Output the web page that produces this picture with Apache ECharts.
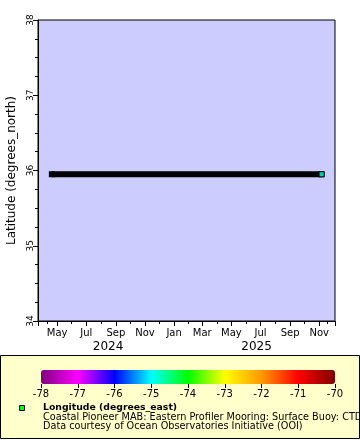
<!DOCTYPE html>
<html>
<head>
<meta charset="utf-8">
<script src="https://cdn.jsdelivr.net/npm/echarts@6/dist/echarts.min.js"></script>
<style>
html,body{margin:0;padding:0;background:#fff;}
#chart{width:360px;height:440px;}
</style>
</head>
<body>
<div id="chart"></div>
<script>
// ---- data ----
const trackDates = ['2024-04-20', '2025-11-06'];      // first and last observation
const trackLatitudes = [35.95, 35.95];                 // degrees_north
const lastDate = '2025-11-06';
const lastLatitude = 35.95;
const lastLongitude = -74.84;                          // degrees_east
const axisStart = '2024-03-22';
const axisEnd = '2025-12-04';
const yearBoundary = '2025-01-01';
const latMin = 34, latMax = 38, latStep = 1;
const lonMin = -78, lonMax = -70, lonStep = 1;
const colorStops = ['#800080', '#ff00ff', '#0000ff', '#00ffff', '#00ff00', '#ffff00', '#ff9900', '#ff0000', '#800000'];
const monthNames = ['Jan','Feb','Mar','Apr','May','Jun','Jul','Aug','Sep','Oct','Nov','Dec'];
const years = [2024, 2025];
const legendTitle = 'Longitude (degrees_east)';
const legendLines = ['Coastal Pioneer MAB: Eastern Profiler Mooring: Surface Buoy: CTD',
                     'Data courtesy of Ocean Observatories Initiative (OOI)'];
const yName = 'Latitude (degrees_north)';

const FONT = 'DejaVu Sans';
const toTs = s => new Date(s + 'T00:00:00').getTime();

const chart = echarts.init(document.getElementById('chart'), null, {renderer: 'canvas'});

const option = {
  animation: false,
  backgroundColor: '#ffffff',
  textStyle: {fontFamily: FONT},
  grid: [
    {left: 38, right: 25, top: 20, bottom: 119, show: true, backgroundColor: '#ccccff', borderColor: '#000', borderWidth: 1, outerBoundsMode: 'none', containLabel: false},
    {left: 41, right: 25, top: 370, height: 14, show: false, outerBoundsMode: 'none', containLabel: false}
  ],
  xAxis: [
    {
      type: 'time', gridIndex: 0,
      min: toTs(axisStart), max: toTs(axisEnd),
      minInterval: 61 * 86400000, maxInterval: 61 * 86400000,
      axisLine: {show: true, lineStyle: {color: '#000', width: 1}},
      axisTick: {show: true, length: 5, lineStyle: {color: '#000'}},
      minorTick: {show: true, splitNumber: 2, length: 3, lineStyle: {color: '#000'}},
      splitLine: {show: false},
      axisLabel: {
        fontFamily: FONT, fontSize: 10, color: '#000', margin: 7, hideOverlap: false,
        showMinLabel: false, showMaxLabel: false,
        formatter: v => monthNames[new Date(v).getMonth()],
        rich: {}
      }
    },
    {
      type: 'value', gridIndex: 1, min: lonMin, max: lonMax, interval: lonStep,
      position: 'bottom',
      axisLine: {show: false},
      axisTick: {show: true, length: 4, inside: false, lineStyle: {color: '#000'}},
      splitLine: {show: false},
      axisLabel: {fontFamily: FONT, fontSize: 10, color: '#000', margin: 5}
    }
  ],
  yAxis: [
    {
      type: 'value', gridIndex: 0, min: latMin, max: latMax, interval: latStep,
      name: yName, nameLocation: 'middle', nameGap: 16,
      nameTextStyle: {fontFamily: FONT, fontSize: 12, color: '#000'},
      axisLine: {show: true, lineStyle: {color: '#000'}},
      axisTick: {show: true, length: 5, lineStyle: {color: '#000'}},
      minorTick: {show: true, splitNumber: 4, length: 3, lineStyle: {color: '#000'}},
      splitLine: {show: false},
      axisLabel: {fontFamily: FONT, fontSize: 9, color: '#000', rotate: 90, margin: 3}
    },
    {type: 'value', gridIndex: 1, min: 0, max: 1, show: false}
  ],
  visualMap: {
    type: 'continuous', seriesIndex: 1, dimension: 2,
    min: lonMin, max: lonMax, orient: 'horizontal',
    left: 41, top: 370, itemWidth: 14, itemHeight: 294, padding: 0,
    calculable: false, text: null, showLabel: false, hoverLink: false,
    inRange: {color: colorStops},
    borderWidth: 0
  },
  series: [
    {
      type: 'line', xAxisIndex: 0, yAxisIndex: 0,
      data: trackDates.map((d, i) => [toTs(d), trackLatitudes[i]]),
      symbol: 'rect', symbolSize: 6, showSymbol: true,
      itemStyle: {color: '#000'},
      lineStyle: {color: '#000', width: 6, cap: 'butt'},
      silent: true, z: 2
    },
    {
      type: 'scatter', xAxisIndex: 0, yAxisIndex: 0,
      data: [[toTs(lastDate), lastLatitude, lastLongitude]],
      symbol: 'rect', symbolSize: 5,
      itemStyle: {borderColor: '#000', borderWidth: 1},
      silent: true, z: 3
    },
    {
      // heavier tick marking the year boundary
      type: 'line', xAxisIndex: 0, yAxisIndex: 0, data: [], clip: false, silent: true,
      markLine: {
        silent: true, symbol: 'none', animation: false, label: {show: false},
        lineStyle: {color: '#000', width: 2.5, type: 'solid'},
        data: [[{coord: [toTs(yearBoundary), latMin]}, {coord: [toTs(yearBoundary), latMin - 0.07]}]]
      }
    }
  ]
};
chart.setOption(option);

// Year labels centred on each year's visible span, positioned through the axis scale
const xMin = toTs(axisStart), xMax = toTs(axisEnd);
const yearTexts = years.map(y => {
  const a = Math.max(xMin, new Date(y, 0, 1).getTime());
  const b = Math.min(xMax, new Date(y + 1, 0, 1).getTime());
  const pa = chart.convertToPixel({xAxisIndex: 0}, a);
  const pb = chart.convertToPixel({xAxisIndex: 0}, b);
  return {
    type: 'text', x: (pa + pb) / 2 + 2, y: 347,
    style: {text: String(y), font: '12px "DejaVu Sans"', fill: '#000', align: 'center', verticalAlign: 'middle'}
  };
});

chart.setOption({
  graphic: [
    {type: 'rect', shape: {x: 0.5, y: 355.5, width: 359, height: 83}, style: {fill: '#ffffcc', stroke: '#000', lineWidth: 1}, z: -10, silent: true},
    {type: 'rect', shape: {x: 19.5, y: 405.5, width: 5, height: 5}, style: {fill: '#00ff00', stroke: '#000', lineWidth: 1}, silent: true},
    {type: 'text', x: 43, y: 408, style: {text: legendTitle, font: 'bold 9.3px "DejaVu Sans"', fill: '#000', verticalAlign: 'middle'}, silent: true},
    {type: 'text', x: 43, y: 417.5, style: {text: legendLines[0], font: '9.7px "DejaVu Sans"', fill: '#000', verticalAlign: 'middle'}, silent: true},
    {type: 'text', x: 43, y: 426.5, style: {text: legendLines[1], font: '9.7px "DejaVu Sans"', fill: '#000', verticalAlign: 'middle'}, silent: true},
    ...yearTexts
  ]
});
</script>
</body>
</html>
